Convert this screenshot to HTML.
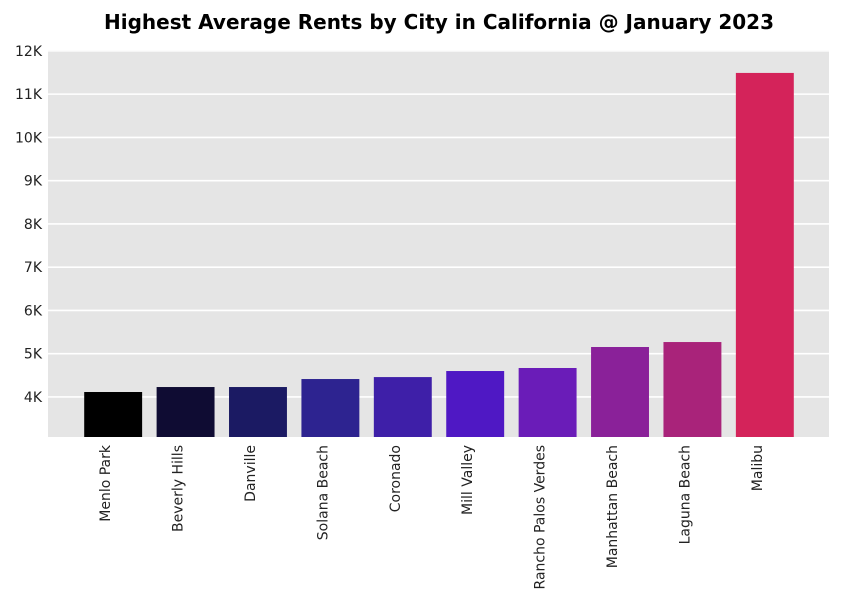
<!DOCTYPE html>
<html><head><meta charset="utf-8"><style>
html,body{margin:0;padding:0;background:#fff;}
svg{display:block;font-family:"DejaVu Sans","Liberation Sans",sans-serif;}
</style></head><body>
<svg id="chart" width="843" height="603" viewBox="0 0 843 603">
<text x="439" y="29" text-anchor="middle" font-size="20" font-weight="bold" fill="#000" textLength="670" lengthAdjust="spacingAndGlyphs">Highest Average Rents by City in California @ January 2023</text>
<rect x="48" y="50" width="781" height="387" fill="#e5e5e5"/>
<g id="grid"></g><g id="bars"></g><g id="yticks"></g><g id="xticks"></g>
</svg>
<script>
const categories = ["Menlo Park","Beverly Hills","Danville","Solana Beach","Coronado","Mill Valley","Rancho Palos Verdes","Manhattan Beach","Laguna Beach","Malibu"];
const rents = [4115,4230,4230,4415,4460,4600,4670,5155,5270,11490];
const barColors = ["#000000","#0f0c33","#1b1a63","#2d2390","#3e1fa8","#4f18c4","#6a1cb8","#8a2199","#a9237a","#d4235a"];
const yTickValues = [4000,5000,6000,7000,8000,9000,10000,11000,12000];
const yTickLabels = ["4K","5K","6K","7K","8K","9K","10K","11K","12K"];

const NS="http://www.w3.org/2000/svg";
const px0=48, px1=830, py0=437, py1=50;
const yMin=3075, yMax=12020;
const xMin=-0.9, xMax=categories.length-0.1;
const y=v=>py0-(v-yMin)/(yMax-yMin)*(py0-py1);
const x=i=>px0+(i-xMin)/(xMax-xMin)*(px1-px0);
const bw=0.8*(x(1)-x(0));
function mk(tag,attrs,parent){const e=document.createElementNS(NS,tag);for(const k in attrs)e.setAttribute(k,attrs[k]);document.getElementById(parent).appendChild(e);return e;}
yTickValues.forEach((v,i)=>{
  const l=mk("line",{x1:px0,x2:px1,y1:y(v),y2:y(v),stroke:"#fff","stroke-width":1.6},"grid");
  
  
  const t=mk("text",{x:42,y:y(v)+5,"text-anchor":"end","font-size":14,fill:"#222"},"yticks");
  t.textContent=yTickLabels[i];
  
  
});
categories.forEach((c,i)=>{
  const r=mk("rect",{x:x(i)-bw/2,y:y(rents[i]),width:bw,height:py0-y(rents[i]),fill:barColors[i]},"bars");
  
  
  const t=mk("text",{transform:`translate(${x(i)-3},445) rotate(-90)`,"text-anchor":"end","font-size":14,fill:"#222"},"xticks");
  t.textContent=c;
  
  
});
</script>
</body></html>
